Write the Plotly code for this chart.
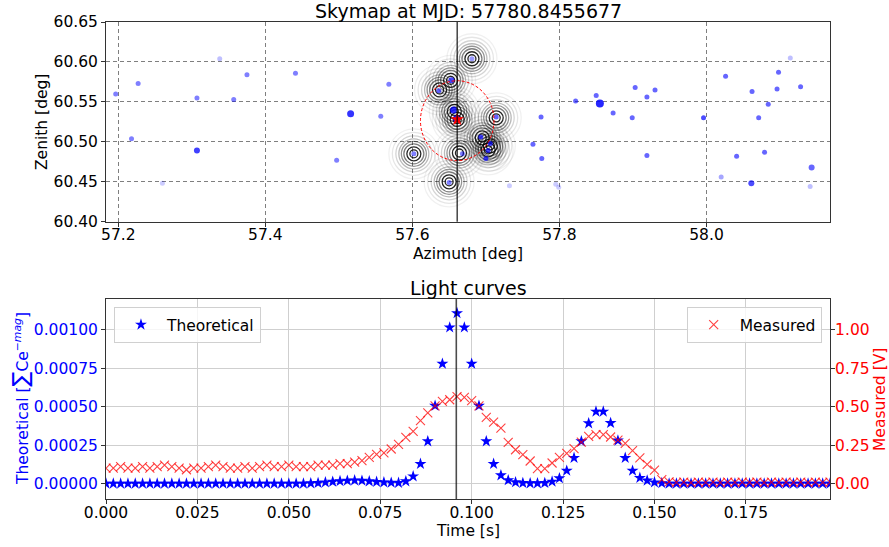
import plotly.graph_objects as go

# ---------------- Skymap data ----------------
mjd_label = "57780.8455677"
star_az = [57.1965, 57.227, 57.218, 57.260, 57.307, 57.307, 57.338, 57.357, 57.375, 57.441,
           57.497, 57.516, 57.557, 57.568, 57.602, 57.636, 57.653, 57.650, 57.656, 57.660,
           57.668, 57.681, 57.714, 57.693, 57.706, 57.703, 57.700, 57.775, 57.764, 57.776,
           57.732, 57.795, 57.799, 57.822, 57.850, 57.855, 57.873, 57.899, 57.903, 57.919,
           57.930, 57.919, 57.996, 58.026, 58.020, 58.041, 58.062, 58.071, 58.061, 58.079,
           58.084, 58.096, 58.098, 58.114, 58.128, 58.143, 58.141]
star_zen = [60.560, 60.573, 60.504, 60.448, 60.555, 60.489, 60.604, 60.553, 60.584, 60.586,
            60.477, 60.535, 60.532, 60.572, 60.485, 60.564, 60.577, 60.449, 60.540, 60.529,
            60.485, 60.604, 60.531, 60.506, 60.498, 60.489, 60.479, 60.531, 60.497, 60.479,
            60.445, 60.447, 60.443, 60.551, 60.558, 60.548, 60.536, 60.530, 60.568, 60.556,
            60.565, 60.483, 60.530, 60.582, 60.456, 60.482, 60.563, 60.530, 60.448, 60.487,
            60.547, 60.566, 60.587, 60.605, 60.569, 60.468, 60.444]
star_alpha = [0.5, 0.5, 0.5, 0.2, 0.5, 0.75, 0.25, 0.5, 0.5, 0.5,
              0.5, 0.8, 0.5, 0.5, 0.5, 0.6, 0.7, 0.5, 0.8, 0.9,
              0.5, 0.4, 0.6, 0.7, 0.7, 0.7, 0.7, 0.6, 0.6, 0.6,
              0.2, 0.2, 0.2, 0.6, 0.6, 0.85, 0.6, 0.6, 0.6, 0.6,
              0.6, 0.6, 0.7, 0.6, 0.35, 0.6, 0.6, 0.6, 0.7, 0.6,
              0.6, 0.6, 0.6, 0.25, 0.6, 0.6, 0.25]
star_size = [5, 5, 5, 5, 5, 6, 5, 5, 5, 5,
             5, 7, 5, 5, 5, 5, 6, 5, 7, 7,
             5, 5, 5, 5, 5, 5, 5, 5, 5, 5,
             5, 5, 5, 5, 5, 8, 5, 5, 5, 5,
             5, 5, 5, 5, 5, 5, 5, 5, 6, 5,
             5, 5, 5, 5, 5, 6, 5]

ring_az = [57.602, 57.637, 57.652, 57.650, 57.657, 57.661, 57.664, 57.681, 57.714, 57.703, 57.695, 57.706]
ring_zen = [60.485, 60.565, 60.577, 60.450, 60.538, 60.528, 60.486, 60.604, 60.530, 60.490, 60.505, 60.495]
ring_diam = [8, 14, 20, 25, 30, 36, 43, 50]
ring_alpha = [0.85, 0.85, 0.5, 0.42, 0.27, 0.17, 0.1, 0.06]

target_az = [57.661]
target_zen = [60.528]
fov_radius = 0.05
fov_center = (57.661, 60.5265)

# ---------------- Light curve data ----------------
times = [0.000, 0.002, 0.004, 0.006, 0.008, 0.010, 0.012, 0.014, 0.016, 0.018,
         0.020, 0.022, 0.024, 0.026, 0.028, 0.030, 0.032, 0.034, 0.036, 0.038,
         0.040, 0.042, 0.044, 0.046, 0.048, 0.050, 0.052, 0.054, 0.056, 0.058,
         0.060, 0.062, 0.064, 0.066, 0.068, 0.070, 0.072, 0.074, 0.076, 0.078,
         0.080, 0.082, 0.084, 0.086, 0.088, 0.090, 0.092, 0.094, 0.096, 0.098,
         0.100, 0.102, 0.104, 0.106, 0.108, 0.110, 0.112, 0.114, 0.116, 0.118,
         0.120, 0.122, 0.124, 0.126, 0.128, 0.130, 0.132, 0.134, 0.136, 0.138,
         0.140, 0.142, 0.144, 0.146, 0.148, 0.150, 0.152, 0.154, 0.156, 0.158,
         0.160, 0.162, 0.164, 0.166, 0.168, 0.170, 0.172, 0.174, 0.176, 0.178,
         0.180, 0.182, 0.184, 0.186, 0.188, 0.190, 0.192, 0.194, 0.196, 0.198]
theoretical = [0, 0, 0, 0, 0, 0, 0, 0, 0, 0,
               0, 0, 0, 0, 0, 0, 0, 0, 0, 0,
               0, 0, 0, 0, 0, 0, 0, 0, 0.000002, 0.000004,
               0.000008, 0.000012, 0.000016, 0.000019, 0.000021, 0.000019, 0.000015, 0.000011, 0.000008, 0.000006,
               0.000005, 0.000015, 0.000047, 0.000128, 0.000275, 0.000506, 0.000779, 0.001015, 0.001108, 0.001015,
               0.000779, 0.000506, 0.000275, 0.000128, 0.000054, 0.000022, 0.000009, 0.000004, 0.000002, 0.000002,
               0.000004, 0.000013, 0.000035, 0.000084, 0.000167, 0.000275, 0.000392, 0.000468, 0.000468, 0.000394,
               0.000280, 0.000167, 0.000084, 0.000037, 0.000020, 0.000008, 0.000003, 0, 0, 0,
               0, 0, 0, 0, 0, 0, 0, 0, 0, 0,
               0, 0, 0, 0, 0, 0, 0, 0, 0, 0]
measured = [0.10, 0.10, 0.11, 0.10, 0.10, 0.11, 0.10, 0.11, 0.12, 0.11,
            0.10, 0.09, 0.10, 0.10, 0.11, 0.12, 0.11, 0.10, 0.10, 0.11,
            0.10, 0.11, 0.12, 0.11, 0.11, 0.12, 0.11, 0.11, 0.11, 0.12,
            0.12, 0.12, 0.13, 0.13, 0.14, 0.15, 0.17, 0.19, 0.20, 0.225,
            0.255, 0.30, 0.34, 0.41, 0.46, 0.505, 0.535, 0.545, 0.565, 0.56,
            0.54, 0.505, 0.43, 0.40, 0.36, 0.268, 0.22, 0.188, 0.147, 0.098,
            0.098, 0.134, 0.17, 0.197, 0.228, 0.27, 0.307, 0.318, 0.318, 0.303,
            0.283, 0.262, 0.215, 0.167, 0.125, 0.087, 0.026, 0.011, 0.008, 0.010,
            0.007, 0.009, 0.008, 0.010, 0.007, 0.009, 0.008, 0.010, 0.008, 0.009,
            0.007, 0.010, 0.008, 0.009, 0.008, 0.010, 0.007, 0.009, 0.008, 0.009]
peak_time = 0.0958

top_xticks = [57.2, 57.4, 57.6, 57.8, 58.0]
top_yticks = [60.40, 60.45, 60.50, 60.55, 60.60, 60.65]
bot_xticks = [0.000, 0.025, 0.050, 0.075, 0.100, 0.125, 0.150, 0.175]
left_yticks = [0.0, 0.00025, 0.0005, 0.00075, 0.001]
right_yticks = [0.0, 0.25, 0.5, 0.75, 1.0]

FONT = "DejaVu Sans"
TICK = 15.5

fig = go.Figure()

# rings
for d, a in zip(ring_diam, ring_alpha):
    fig.add_trace(go.Scatter(
        x=ring_az, y=ring_zen, mode="markers", xaxis="x", yaxis="y", showlegend=False,
        hoverinfo="skip",
        marker=dict(symbol="circle-open", size=d,
                    color="rgba(0,0,0,%.2f)" % a, line=dict(width=1.3, color="rgba(0,0,0,%.2f)" % a))))

# stars
fig.add_trace(go.Scatter(
    x=star_az, y=star_zen, mode="markers", xaxis="x", yaxis="y", showlegend=False,
    marker=dict(symbol="circle", size=star_size, color="blue", opacity=star_alpha, line=dict(width=0))))

# target
fig.add_trace(go.Scatter(
    x=target_az, y=target_zen, mode="markers", xaxis="x", yaxis="y", showlegend=False,
    marker=dict(symbol="star", size=10, color="red", line=dict(width=0))))

# light curves
fig.add_trace(go.Scatter(
    x=times, y=theoretical, mode="markers", name="Theoretical", xaxis="x2", yaxis="y2",
    legend="legend",
    marker=dict(symbol="star", size=9, color="blue", line=dict(width=0))))
fig.add_trace(go.Scatter(
    x=times, y=measured, mode="markers", name="Measured", xaxis="x2", yaxis="y3",
    legend="legend2",
    marker=dict(symbol="x-thin-open", size=9, color="rgba(255,0,0,0.75)",
                line=dict(width=1.1, color="rgba(255,0,0,0.75)"))))

shapes = [
    dict(type="circle", xref="x", yref="y",
         x0=fov_center[0] - fov_radius, x1=fov_center[0] + fov_radius,
         y0=fov_center[1] - fov_radius, y1=fov_center[1] + fov_radius,
         line=dict(color="red", width=1, dash="3px,2px"), layer="above"),
    dict(type="line", xref="x", yref="y domain", x0=target_az[0], x1=target_az[0], y0=0, y1=1,
         line=dict(color="rgba(0,0,0,0.7)", width=1.6), layer="above"),
    dict(type="line", xref="x2", yref="y2 domain", x0=peak_time, x1=peak_time, y0=0, y1=1,
         line=dict(color="rgba(0,0,0,0.7)", width=1.6), layer="above"),
]

axis_common = dict(showline=True, linecolor="#333", linewidth=1, mirror=True, ticks="outside",
                   ticklen=4, tickcolor="#333", zeroline=False, automargin=False,
                   tickfont=dict(family=FONT, size=TICK, color="black"))

top_dom = [0.5813, 1.0]
bot_dom = [0.0, 0.4193]

fig.update_layout(
    width=889, height=547,
    margin=dict(l=106, r=59, t=22, b=48),
    paper_bgcolor="white", plot_bgcolor="white",
    font=dict(family=FONT, size=TICK, color="black"),
    shapes=shapes,
    xaxis=dict(axis_common, domain=[0, 1], anchor="y", range=[57.1833, 58.168],
               tickvals=top_xticks, ticktext=["%.1f" % v for v in top_xticks], ticklabelstandoff=-5,
               showgrid=True, gridcolor="rgba(0,0,0,0.5)", griddash="4px,3px", gridwidth=1),
    yaxis=dict(axis_common, domain=top_dom, anchor="x", range=[60.40, 60.65],
               tickvals=top_yticks, ticktext=["%.2f" % v for v in top_yticks],
               showgrid=True, gridcolor="rgba(0,0,0,0.5)", griddash="4px,3px", gridwidth=1),
    xaxis2=dict(axis_common, domain=[0, 1], anchor="y2", range=[0.0, 0.198],
                tickvals=bot_xticks, ticktext=["%.3f" % v for v in bot_xticks], ticklabelstandoff=-5,
                showgrid=True, gridcolor="#cfcfcf", gridwidth=1),
    yaxis2=dict(axis_common, domain=bot_dom, anchor="x2", range=[-0.0001, 0.0012],
                tickvals=left_yticks, ticktext=["%.5f" % v for v in left_yticks],
                tickfont=dict(family=FONT, size=TICK, color="blue"),
                showgrid=True, gridcolor="#cfcfcf", gridwidth=1, mirror=False),
    yaxis3=dict(axis_common, domain=bot_dom, anchor="x2", overlaying="y2", side="right",
                range=[-0.1, 1.2], tickvals=right_yticks, ticktext=["%.2f" % v for v in right_yticks],
                ticklabelstandoff=-3,
                tickfont=dict(family=FONT, size=TICK, color="red"), showgrid=False, mirror=False),
    legend=dict(x=0.011, y=0.4025, xanchor="left", yanchor="top",
                bgcolor="rgba(255,255,255,0.8)", bordercolor="#d0d0d0", borderwidth=1,
                font=dict(family=FONT, size=TICK, color="black"), itemwidth=42),
    legend2=dict(x=0.9885, y=0.4025, xanchor="right", yanchor="top",
                 bgcolor="rgba(255,255,255,0.8)", bordercolor="#d0d0d0", borderwidth=1,
                 font=dict(family=FONT, size=TICK, color="black"), itemwidth=42),
)

def ann(text, x, y, size=TICK, color="black", angle=0):
    fig.add_annotation(text=text, x=x, y=y, xref="paper", yref="paper", showarrow=False,
                       xanchor="center", yanchor="middle", textangle=angle,
                       font=dict(family=FONT, size=size, color=color))

W = 889 - 106 - 59
H = 547 - 22 - 48
def px(xp):
    return (xp - 106) / W
def py(yp):
    return (547 - 48 - yp) / H

ann("Skymap at MJD: " + mjd_label, px(468), py(11), size=19)
ann("Light curves", px(468), py(288), size=19)
ann("Azimuth [deg]", px(468), py(254))
ann("Time [s]", px(468), py(531))
ann("Zenith [deg]", px(42), py(122), angle=-90)
ann("Theoretical [<span style='font-size:22px'>∑</span>Ce<sup>−<i>mag</i></sup>]", px(20), py(399), color="blue", angle=-90)
ann("Measured [V]", px(880), py(400), color="red", angle=-90)

fig.write_html("out.html", config={"displayModeBar": False},
               post_script="document.body.style.margin='0px';document.body.style.overflow='hidden';")
